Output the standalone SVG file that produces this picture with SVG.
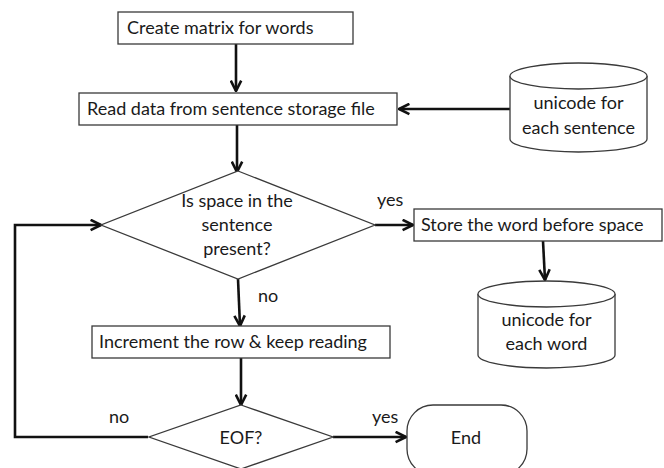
<svg xmlns="http://www.w3.org/2000/svg" width="664" height="468" viewBox="0 0 664 468">
  <style>
    .shape { fill: #ffffff; stroke: #3a3a3a; stroke-width: 1.3; }
    .conn { fill: none; stroke: #111111; stroke-width: 2.6; }
    text { font-family: Lato, "Open Sans", "Liberation Sans", sans-serif; font-size: 18px; fill: #1a1a1a; }
    .c { text-anchor: middle; }
  </style>
  <defs>
    <marker id="arrow" viewBox="0 0 10 10" refX="9" refY="5" markerWidth="5" markerHeight="5" orient="auto" markerUnits="strokeWidth">
      <polyline points="1,1 9,5 1,9" fill="none" stroke="#111111" stroke-width="2"/>
    </marker>
  </defs>

  <rect width="664" height="468" fill="#ffffff"/>

  <!-- connectors -->
  <g id="connectors">
    <line class="conn" x1="236" y1="44" x2="236" y2="91" marker-end="url(#arrow)"/>
    <line class="conn" x1="510" y1="109" x2="399" y2="109" marker-end="url(#arrow)"/>
    <line class="conn" x1="237" y1="125" x2="237" y2="172" marker-end="url(#arrow)"/>
    <line class="conn" x1="375" y1="225" x2="413" y2="225" marker-end="url(#arrow)"/>
    <line class="conn" x1="543" y1="241" x2="545" y2="280" marker-end="url(#arrow)"/>
    <line class="conn" x1="238" y1="279" x2="240" y2="326" marker-end="url(#arrow)"/>
    <line class="conn" x1="241" y1="358" x2="241" y2="405" marker-end="url(#arrow)"/>
    <polyline class="conn" points="148,437 15,437 15,225 101,225" marker-end="url(#arrow)"/>
    <line class="conn" x1="333" y1="437" x2="406" y2="437" marker-end="url(#arrow)"/>
    <text x="377" y="206">yes</text>
    <text x="258" y="302">no</text>
    <text x="109" y="423">no</text>
    <text x="372" y="423">yes</text>
  </g>

  <g id="create-matrix">
    <rect class="shape" x="118" y="12" width="235" height="32"/>
    <text x="127" y="34">Create matrix for words</text>
  </g>

  <g id="read-data">
    <rect class="shape" x="79" y="93" width="318" height="32"/>
    <text x="87" y="115">Read data from sentence storage file</text>
  </g>

  <g id="sentence-store">
    <path class="shape" d="M510,76 A68.5,13 0 0 1 647,76 L647,139 A68.5,13 0 0 1 510,139 Z"/>
    <path class="shape" fill="none" d="M510,76 A68.5,13 0 0 0 647,76"/>
    <text class="c" x="578.5" y="109">unicode for</text>
    <text class="c" x="578.5" y="134">each sentence</text>
  </g>

  <g id="space-check">
    <polygon class="shape" points="238,171 375,225 238,279 101,225"/>
    <text class="c" x="237" y="207">Is space in the</text>
    <text class="c" x="237" y="231">sentence</text>
    <text class="c" x="237" y="255">present?</text>
  </g>

  <g id="store-word">
    <rect class="shape" x="414" y="209" width="248" height="32"/>
    <text x="421" y="231">Store the word before space</text>
  </g>

  <g id="word-store">
    <path class="shape" d="M478,294 A68.5,13 0 0 1 615,294 L615,355 A68.5,13 0 0 1 478,355 Z"/>
    <path class="shape" fill="none" d="M478,294 A68.5,13 0 0 0 615,294"/>
    <text class="c" x="546.5" y="326">unicode for</text>
    <text class="c" x="546.5" y="350">each word</text>
  </g>

  <g id="increment-row">
    <rect class="shape" x="92" y="326" width="298" height="32"/>
    <text x="99" y="348">Increment the row &amp; keep reading</text>
  </g>

  <g id="eof-check">
    <polygon class="shape" points="241,405 333,437 241,469 149,437"/>
    <text class="c" x="241" y="444">EOF?</text>
  </g>

  <g id="end">
    <rect class="shape" x="407" y="405" width="120" height="70" rx="26" ry="26"/>
    <text class="c" x="466" y="444">End</text>
  </g>
</svg>
